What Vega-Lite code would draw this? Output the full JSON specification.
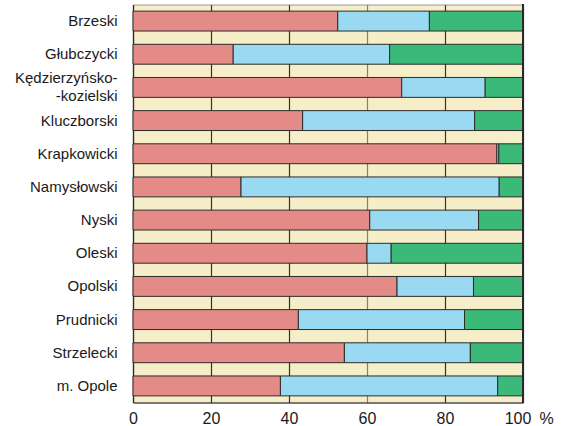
{
  "$schema": "https://vega.github.io/schema/vega-lite/v6.json",
  "width": 390,
  "height": 398,
  "autosize": {"type": "none"},
  "padding": {"left": 133, "top": 4.5, "right": 40, "bottom": 23.5},
  "background": "white",
  "config": {
    "view": {"fill": "#f6eec8", "stroke": "#9a9a9a", "strokeWidth": 1},
    "font": "Liberation Sans"
  },
  "data": {
    "values": [
      {"powiat": "Brzeski", "seg": 1, "value": 52.5},
      {"powiat": "Brzeski", "seg": 2, "value": 23.5},
      {"powiat": "Brzeski", "seg": 3, "value": 24.0},
      {"powiat": "Głubczycki", "seg": 1, "value": 25.7},
      {"powiat": "Głubczycki", "seg": 2, "value": 40.1},
      {"powiat": "Głubczycki", "seg": 3, "value": 34.2},
      {"powiat": "Kędzierzyńsko-kozielski", "seg": 1, "value": 68.9},
      {"powiat": "Kędzierzyńsko-kozielski", "seg": 2, "value": 21.4},
      {"powiat": "Kędzierzyńsko-kozielski", "seg": 3, "value": 9.7},
      {"powiat": "Kluczborski", "seg": 1, "value": 43.5},
      {"powiat": "Kluczborski", "seg": 2, "value": 44.1},
      {"powiat": "Kluczborski", "seg": 3, "value": 12.4},
      {"powiat": "Krapkowicki", "seg": 1, "value": 93.3},
      {"powiat": "Krapkowicki", "seg": 2, "value": 0.5},
      {"powiat": "Krapkowicki", "seg": 3, "value": 6.2},
      {"powiat": "Namysłowski", "seg": 1, "value": 27.7},
      {"powiat": "Namysłowski", "seg": 2, "value": 66.2},
      {"powiat": "Namysłowski", "seg": 3, "value": 6.1},
      {"powiat": "Nyski", "seg": 1, "value": 60.7},
      {"powiat": "Nyski", "seg": 2, "value": 27.9},
      {"powiat": "Nyski", "seg": 3, "value": 11.4},
      {"powiat": "Oleski", "seg": 1, "value": 60.0},
      {"powiat": "Oleski", "seg": 2, "value": 6.2},
      {"powiat": "Oleski", "seg": 3, "value": 33.8},
      {"powiat": "Opolski", "seg": 1, "value": 67.7},
      {"powiat": "Opolski", "seg": 2, "value": 19.6},
      {"powiat": "Opolski", "seg": 3, "value": 12.7},
      {"powiat": "Prudnicki", "seg": 1, "value": 42.4},
      {"powiat": "Prudnicki", "seg": 2, "value": 42.6},
      {"powiat": "Prudnicki", "seg": 3, "value": 15.0},
      {"powiat": "Strzelecki", "seg": 1, "value": 54.2},
      {"powiat": "Strzelecki", "seg": 2, "value": 32.3},
      {"powiat": "Strzelecki", "seg": 3, "value": 13.5},
      {"powiat": "m. Opole", "seg": 1, "value": 37.8},
      {"powiat": "m. Opole", "seg": 2, "value": 55.7},
      {"powiat": "m. Opole", "seg": 3, "value": 6.5}
    ]
  },
  "layer": [
    {
      "mark": {"type": "bar", "stroke": "#2b2b2b", "strokeWidth": 1},
      "encoding": {
        "y": {
          "field": "powiat",
          "type": "nominal",
          "sort": null,
          "scale": {"paddingInner": 0.4, "paddingOuter": 0.2},
          "axis": {
            "title": null,
            "ticks": false,
            "labelFontSize": 15,
            "labelColor": "#1a1a1a",
            "labelPadding": 16,
            "labelLineHeight": 18,
            "labelOffset": {"condition": {"test": "datum.value == 'Kędzierzyńsko-kozielski'", "value": -9}, "value": 0},
            "labelExpr": "datum.label == 'Kędzierzyńsko-kozielski' ? ['Kędzierzyńsko-', '-kozielski'] : datum.label",
            "domainColor": "#2b2b2b",
            "domainWidth": 1.2
          }
        },
        "x": {
          "field": "value",
          "type": "quantitative",
          "stack": "zero",
          "scale": {"domain": [0, 100], "nice": false},
          "axis": {
            "values": [0, 20, 40, 60, 80, 100],
            "ticks": false,
            "grid": true,
            "gridColor": {"condition": {"test": "datum.value == 60", "value": "#8a8068"}, "value": "#333333"},
            "gridWidth": 1.2,
            "labelFontSize": 16,
            "labelColor": "#1a1a1a",
            "labelPadding": 8,
            "labelFlush": false,
            "labelOffset": {"condition": {"test": "datum.value == 100", "value": -5.5}, "value": 0},
            "domainColor": "#2b2b2b",
            "domainWidth": 1.2,
            "title": "%",
            "titleFontSize": 16,
            "titleFontWeight": "normal",
            "titleColor": "#1a1a1a",
            "titleX": 413,
            "titleY": 8,
            "titleAlign": "center",
            "titleBaseline": "top"
          }
        },
        "color": {
          "field": "seg",
          "type": "nominal",
          "scale": {"domain": [1, 2, 3], "range": ["#e48b88", "#99d9f2", "#3bb978"]},
          "legend": null
        },
        "order": {"field": "seg", "type": "quantitative"}
      }
    },
    {
      "mark": {"type": "rule", "color": "#2b2b2b", "strokeWidth": 1.2},
      "encoding": {"x": {"datum": 100}}
    }
  ]
}
